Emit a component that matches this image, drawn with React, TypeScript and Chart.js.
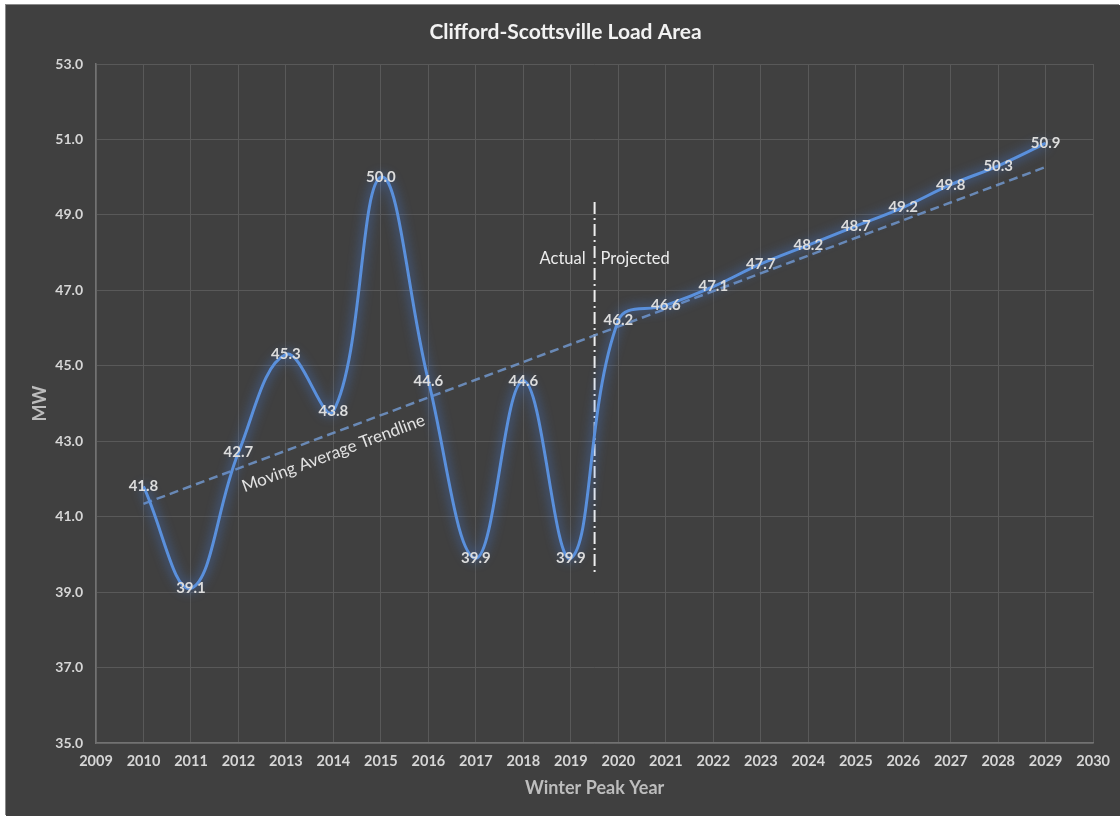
import React, { useEffect, useRef } from "react";
import { Chart, registerables } from "chart.js";

Chart.register(...registerables);

// ---- data ----
const years = [2010, 2011, 2012, 2013, 2014, 2015, 2016, 2017, 2018, 2019, 2020, 2021, 2022, 2023, 2024, 2025, 2026, 2027, 2028, 2029];
const loadMW = [41.8, 39.1, 42.7, 45.3, 43.8, 50.0, 44.6, 39.9, 44.6, 39.9, 46.2, 46.6, 47.1, 47.7, 48.2, 48.7, 49.2, 49.8, 50.3, 50.9];
const trendYears = [2010, 2029];
const trendMW = [41.34, 50.27];
const dividerYear = 2019.5;
const dividerMW = [49.34, 39.45];
const xRange = [2009, 2030];
const yRange = [35, 53];
const yStep = 2;
const chartTitle = "Clifford-Scottsville Load Area";

const FONT = "Lato, 'Open Sans', sans-serif";
const BG = "#404040";

const overlayPlugin = {
  id: "overlay",
  beforeDatasetDraw(chart: any, args: any) {
    if (args.index === 0) {
      const ctx = chart.ctx;
      ctx.save();
      ctx.shadowColor = "rgba(70,130,235,0.95)";
      ctx.shadowBlur = 12;
    }
  },
  afterDatasetDraw(chart: any, args: any) {
    if (args.index === 0) chart.ctx.restore();
  },
  afterDraw(chart: any) {
    const ctx = chart.ctx;
    ctx.save();
    ctx.font = `bold 21px ${FONT}`;
    ctx.fillStyle = "#f2f2f2";
    ctx.textAlign = "center";
    ctx.textBaseline = "middle";
    ctx.fillText(chartTitle, chart.width / 2 + 2.5, 27);
    ctx.restore();
  },
  afterDatasetsDraw(chart: any) {
    const ctx = chart.ctx;
    const xs = chart.scales.x;
    const ys = chart.scales.y;
    const meta = chart.getDatasetMeta(0);
    ctx.save();
    ctx.font = `bold 15px ${FONT}`;
    ctx.fillStyle = "#dcdcdc";
    ctx.textAlign = "center";
    ctx.textBaseline = "middle";
    meta.data.forEach((p: any, i: number) => {
      ctx.fillText(loadMW[i].toFixed(1), p.x, p.y);
    });

    // Actual / Projected
    const dx = xs.getPixelForValue(dividerYear);
    const ly = ys.getPixelForValue(47.83);
    ctx.font = `16.5px ${FONT}`;
    ctx.fillStyle = "#ececec";
    ctx.textAlign = "right";
    ctx.fillText("Actual", dx - 9, ly);
    ctx.textAlign = "left";
    ctx.fillText("Projected", dx + 6, ly);

    // trendline label
    const x0 = xs.getPixelForValue(trendYears[0]);
    const y0 = ys.getPixelForValue(trendMW[0]);
    const x1 = xs.getPixelForValue(trendYears[1]);
    const y1 = ys.getPixelForValue(trendMW[1]);
    const ang = Math.atan2(y1 - y0, x1 - x0);
    const tx = xs.getPixelForValue(2014.0);
    const ty = ys.getPixelForValue(42.68);
    ctx.translate(tx, ty);
    ctx.rotate(ang);
    ctx.textAlign = "center";
    ctx.font = `17px ${FONT}`;
    ctx.fillStyle = "#e2e2e2";
    ctx.fillText("Moving Average Trendline", 0, 0);
    ctx.restore();
  },
};

export default function App() {
  const ref = useRef<HTMLCanvasElement>(null);
  useEffect(() => {
    if (!ref.current) return;
    const chart = new Chart(ref.current, {
      type: "line",
      data: {
        datasets: [
          {
            label: "Load",
            data: years.map((y, i) => ({ x: y, y: loadMW[i] })),
            borderColor: "#5a90dc",
            borderWidth: 3,
            pointRadius: 0,
            tension: 0.4,
            fill: false,
          },
          {
            label: "Trend",
            data: trendYears.map((y, i) => ({ x: y, y: trendMW[i] })),
            borderColor: "rgba(110,145,195,0.9)",
            borderWidth: 2.5,
            borderDash: [9, 5],
            pointRadius: 0,
            tension: 0,
          },
          {
            label: "Divider",
            data: dividerMW.map((v) => ({ x: dividerYear, y: v })),
            borderColor: "#eeeeee",
            borderWidth: 2,
            borderDash: [12, 4, 2, 4],
            pointRadius: 0,
            tension: 0,
          },
        ],
      },
      options: {
        animation: false,
        responsive: false,
        maintainAspectRatio: false,
        layout: { padding: { left: 0, right: 26, top: 59, bottom: 0 } },
        plugins: {
          legend: { display: false },
          tooltip: { enabled: false },
          title: { display: false },
        },
        scales: {
          x: {
            type: "linear",
            min: xRange[0],
            max: xRange[1],
            afterFit(scale: any) {
              scale.height = 73;
            },
            ticks: {
              stepSize: 1,
              color: "#d6d6d6",
              padding: 10,
              maxRotation: 0,
              autoSkip: false,
              font: { family: FONT, size: 14.5, weight: "bold" },
              callback: (v: any) => String(v),
            },
            grid: { color: "#595959", lineWidth: 1, drawTicks: false },
            border: { color: "#727272", width: 1.5 },
            title: {
              display: true,
              text: "Winter Peak Year",
              color: "#bdbdbd",
              font: { family: FONT, size: 18, weight: "bold", lineHeight: 1.2 },
              padding: { top: 0, bottom: 17 },
            },
          },
          y: {
            min: yRange[0],
            max: yRange[1],
            afterFit(scale: any) {
              scale.width = 90;
            },
            ticks: {
              stepSize: yStep,
              color: "#d6d6d6",
              padding: 13,
              font: { family: FONT, size: 14, weight: "bold" },
              callback: (v: any) => Number(v).toFixed(1),
            },
            grid: { color: "#595959", lineWidth: 1, drawTicks: false },
            border: { color: "#727272", width: 1.5 },
            title: {
              display: true,
              text: "MW",
              color: "#bdbdbd",
              font: { family: FONT, size: 18, weight: "bold", lineHeight: 1.2 },
              padding: { top: 23, bottom: 0 },
            },
          },
        },
      },
      plugins: [overlayPlugin],
    } as any);
    return () => chart.destroy();
  }, []);

  return (
    <div
      style={{
        position: "fixed",
        left: 6,
        top: 5,
        width: 1114,
        height: 811,
        background: BG,
        boxShadow: "-1px -1px 0 #8a8a8a",
      }}
    >
      <canvas ref={ref} width={1114} height={811} style={{ display: "block" }} />
    </div>
  );
}
